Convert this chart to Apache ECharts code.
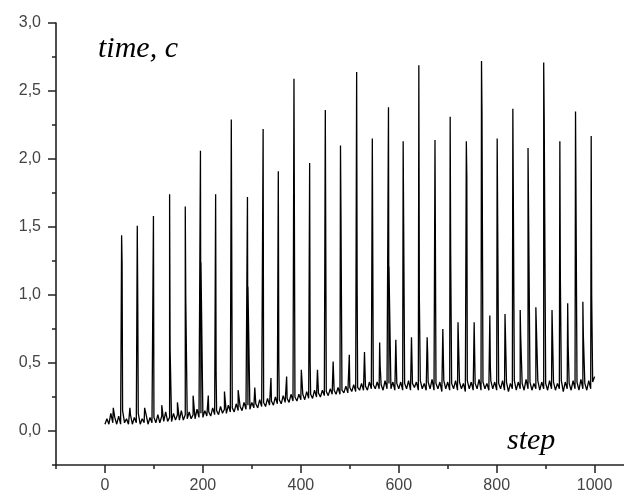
<!DOCTYPE html>
<html>
<head>
<meta charset="utf-8">
<script src="https://cdn.jsdelivr.net/npm/echarts@6/dist/echarts.min.js"></script>
<style>
html,body{margin:0;padding:0;background:#fff;}
#chart{width:624px;height:493px;}
</style>
</head>
<body>
<div id="chart"></div>
<script>
// ---- data ----
// baseline (noisy band) sampled every 4 steps, from step 0 to 1000
const baseStart = 0;
const baseStep = 4;
const baseValues = [
  0.05,0.09,0.05,0.13,0.06,0.10,0.05,0.11,0.05,0.15,0.06,0.09,0.05,0.12,0.05,0.10,0.06,0.13,0.05,0.09,0.06,0.12,0.05,0.10,0.06,
  0.10,0.06,0.12,0.06,0.11,0.07,0.14,0.07,0.10,0.07,0.13,0.08,0.12,0.08,0.15,0.08,0.12,0.09,0.14,0.09,0.12,0.09,0.16,0.10,0.13,
  0.10,0.15,0.11,0.14,0.11,0.17,0.12,0.15,0.12,0.18,0.13,0.16,0.13,0.19,0.14,0.17,0.14,0.20,0.15,0.18,0.15,0.21,0.16,0.19,0.16,
  0.21,0.17,0.20,0.17,0.23,0.18,0.21,0.18,0.24,0.19,0.22,0.19,0.25,0.20,0.23,0.20,0.26,0.21,0.24,0.21,0.27,0.22,0.25,0.22,0.27,
  0.23,0.27,0.23,0.29,0.24,0.27,0.24,0.30,0.25,0.28,0.25,0.30,0.26,0.29,0.26,0.31,0.27,0.30,0.27,0.32,0.27,0.30,0.28,0.33,0.28,
  0.32,0.29,0.34,0.29,0.32,0.30,0.35,0.30,0.33,0.30,0.36,0.31,0.34,0.31,0.36,0.31,0.34,0.30,0.37,0.31,0.35,0.31,0.36,0.30,0.35,
  0.31,0.36,0.30,0.35,0.31,0.37,0.30,0.35,0.32,0.36,0.30,0.37,0.31,0.35,0.30,0.36,0.31,0.38,0.30,0.35,0.31,0.36,0.29,0.37,0.31,
  0.36,0.30,0.35,0.31,0.37,0.30,0.36,0.31,0.35,0.29,0.37,0.31,0.36,0.30,0.35,0.31,0.38,0.30,0.36,0.31,0.35,0.30,0.37,0.31,0.36,
  0.30,0.35,0.31,0.37,0.30,0.36,0.29,0.35,0.31,0.37,0.30,0.36,0.31,0.35,0.30,0.38,0.31,0.36,0.30,0.35,0.31,0.37,0.30,0.36,0.31,
  0.35,0.30,0.37,0.31,0.36,0.30,0.35,0.31,0.37,0.29,0.36,0.31,0.35,0.30,0.37,0.31,0.36,0.30,0.38,0.31,0.35,0.30,0.37,0.31,0.36,
  0.40
];

// large periodic spikes: step, peak, value on the following step (null = none)
const bigSteps  = [34,66,99,132,164,195,226,258,291,323,354,386,418,450,481,514,546,579,609,641,674,705,738,769,801,833,864,896,929,961,993];
const bigPeaks  = [1.44,1.51,1.58,1.74,1.65,2.06,1.74,2.29,1.72,2.22,1.91,2.59,1.97,2.36,2.10,2.64,2.15,2.38,2.13,2.69,2.14,2.31,2.13,2.72,2.15,2.37,2.08,2.71,2.13,2.35,2.17];
const bigNext   = [1.23,0.93,null,0.61,0.98,1.24,0.42,null,1.06,null,0.51,null,0.51,null,1.57,1.06,null,1.21,1.53,1.00,null,1.32,1.87,2.33,null,null,null,2.31,1.14,null,0.99];

// small intermediate spikes
const smallSteps = [17,51,81,116,148,180,211,244,272,306,339,371,401,434,466,499,530,561,594,626,658,690,721,754,786,817,848,880,913,945,976];
const smallPeaks = [0.17,0.17,0.17,0.19,0.21,0.26,0.26,0.29,0.30,0.32,0.39,0.40,0.45,0.45,0.51,0.56,0.58,0.65,0.67,0.69,0.69,0.75,0.80,0.80,0.85,0.86,0.89,0.91,0.89,0.94,0.95];
const smallNext  = [null,null,null,null,null,null,null,null,null,null,null,null,null,null,null,null,null,0.48,null,null,0.57,null,null,null,0.48,null,0.70,null,null,0.62,0.70];

// axes
const xLabelValues = [0,200,400,600,800,1000];
const xMinorValues = [-100,100,300,500,700,900];
const yLabelValues = [0,0.5,1.0,1.5,2.0,2.5,3.0];
const yMinorValues = [-0.25,0.25,0.75,1.25,1.75,2.25,2.75];
const yTitle = 'time, c';
const xTitle = 'step';

// ---- build series data ----
const pts = [];
baseValues.forEach((v, i) => pts.push({x: baseStart + i * baseStep, y: v, o: 0}));
function addSpikes(steps, peaks, next) {
  steps.forEach((s, i) => {
    pts.push({x: s, y: peaks[i], o: 1});
    if (next[i] != null) pts.push({x: s + 1, y: next[i], o: 2});
  });
}
addSpikes(bigSteps, bigPeaks, bigNext);
addSpikes(smallSteps, smallPeaks, smallNext);
pts.sort((a, b) => a.x - b.x || a.o - b.o);
const lineData = pts.map(p => [p.x, p.y]);

const chart = echarts.init(document.getElementById('chart'), null, {renderer: 'canvas'});
const axisColor = '#222';
const labelFont = {fontFamily: '"Liberation Sans", Arial, sans-serif', fontSize: 16, color: '#444'};
chart.setOption({
  animation: false,
  backgroundColor: '#fff',
  grid: {left: 56, top: 23, right: 0, height: 442, containLabel: false, outerBoundsMode: 'none'},
  xAxis: [{
    type: 'value', min: -100, max: 1060, gridIndex: 0, position: 'bottom',
    axisLine: {show: true, onZero: false, lineStyle: {color: axisColor, width: 1.6}},
    axisTick: {show: true, inside: false, length: 8, customValues: xLabelValues, lineStyle: {color: axisColor, width: 1.5}},
    axisLabel: {show: true, customValues: xLabelValues, margin: 13, formatter: v => String(v), ...labelFont},
    splitLine: {show: false}
  }, {
    type: 'value', min: -100, max: 1060, gridIndex: 0, position: 'bottom',
    axisLine: {show: false, onZero: false},
    axisTick: {show: true, inside: false, length: 4, customValues: xMinorValues, lineStyle: {color: axisColor, width: 1.5}},
    axisLabel: {show: false},
    splitLine: {show: false}
  }],
  yAxis: [{
    type: 'value', min: -0.25, max: 3.0, gridIndex: 0, position: 'left',
    axisLine: {show: true, onZero: false, lineStyle: {color: axisColor, width: 1.6}},
    axisTick: {show: true, inside: false, length: 8, customValues: yLabelValues, lineStyle: {color: axisColor, width: 1.5}},
    axisLabel: {show: true, customValues: yLabelValues, margin: 15, formatter: v => v.toFixed(1).replace('.', ','), ...labelFont},
    splitLine: {show: false}
  }, {
    type: 'value', min: -0.25, max: 3.0, gridIndex: 0, position: 'left',
    axisLine: {show: false, onZero: false},
    axisTick: {show: true, inside: false, length: 4, customValues: yMinorValues, lineStyle: {color: axisColor, width: 1.5}},
    axisLabel: {show: false},
    splitLine: {show: false}
  }],
  series: [{
    type: 'line',
    xAxisIndex: 0, yAxisIndex: 0,
    data: lineData,
    showSymbol: false,
    symbol: 'none',
    sampling: null,
    lineStyle: {color: '#000', width: 1.3},
    emphasis: {disabled: true}
  }],
  graphic: [{
    type: 'text', left: 98, top: 34,
    style: {text: yTitle, font: 'italic 30px "Liberation Serif", "Times New Roman", serif', fill: '#000'}
  }, {
    type: 'text', left: 507, top: 426,
    style: {text: xTitle, font: 'italic 30px "Liberation Serif", "Times New Roman", serif', fill: '#000'}
  }]
});
</script>
</body>
</html>
